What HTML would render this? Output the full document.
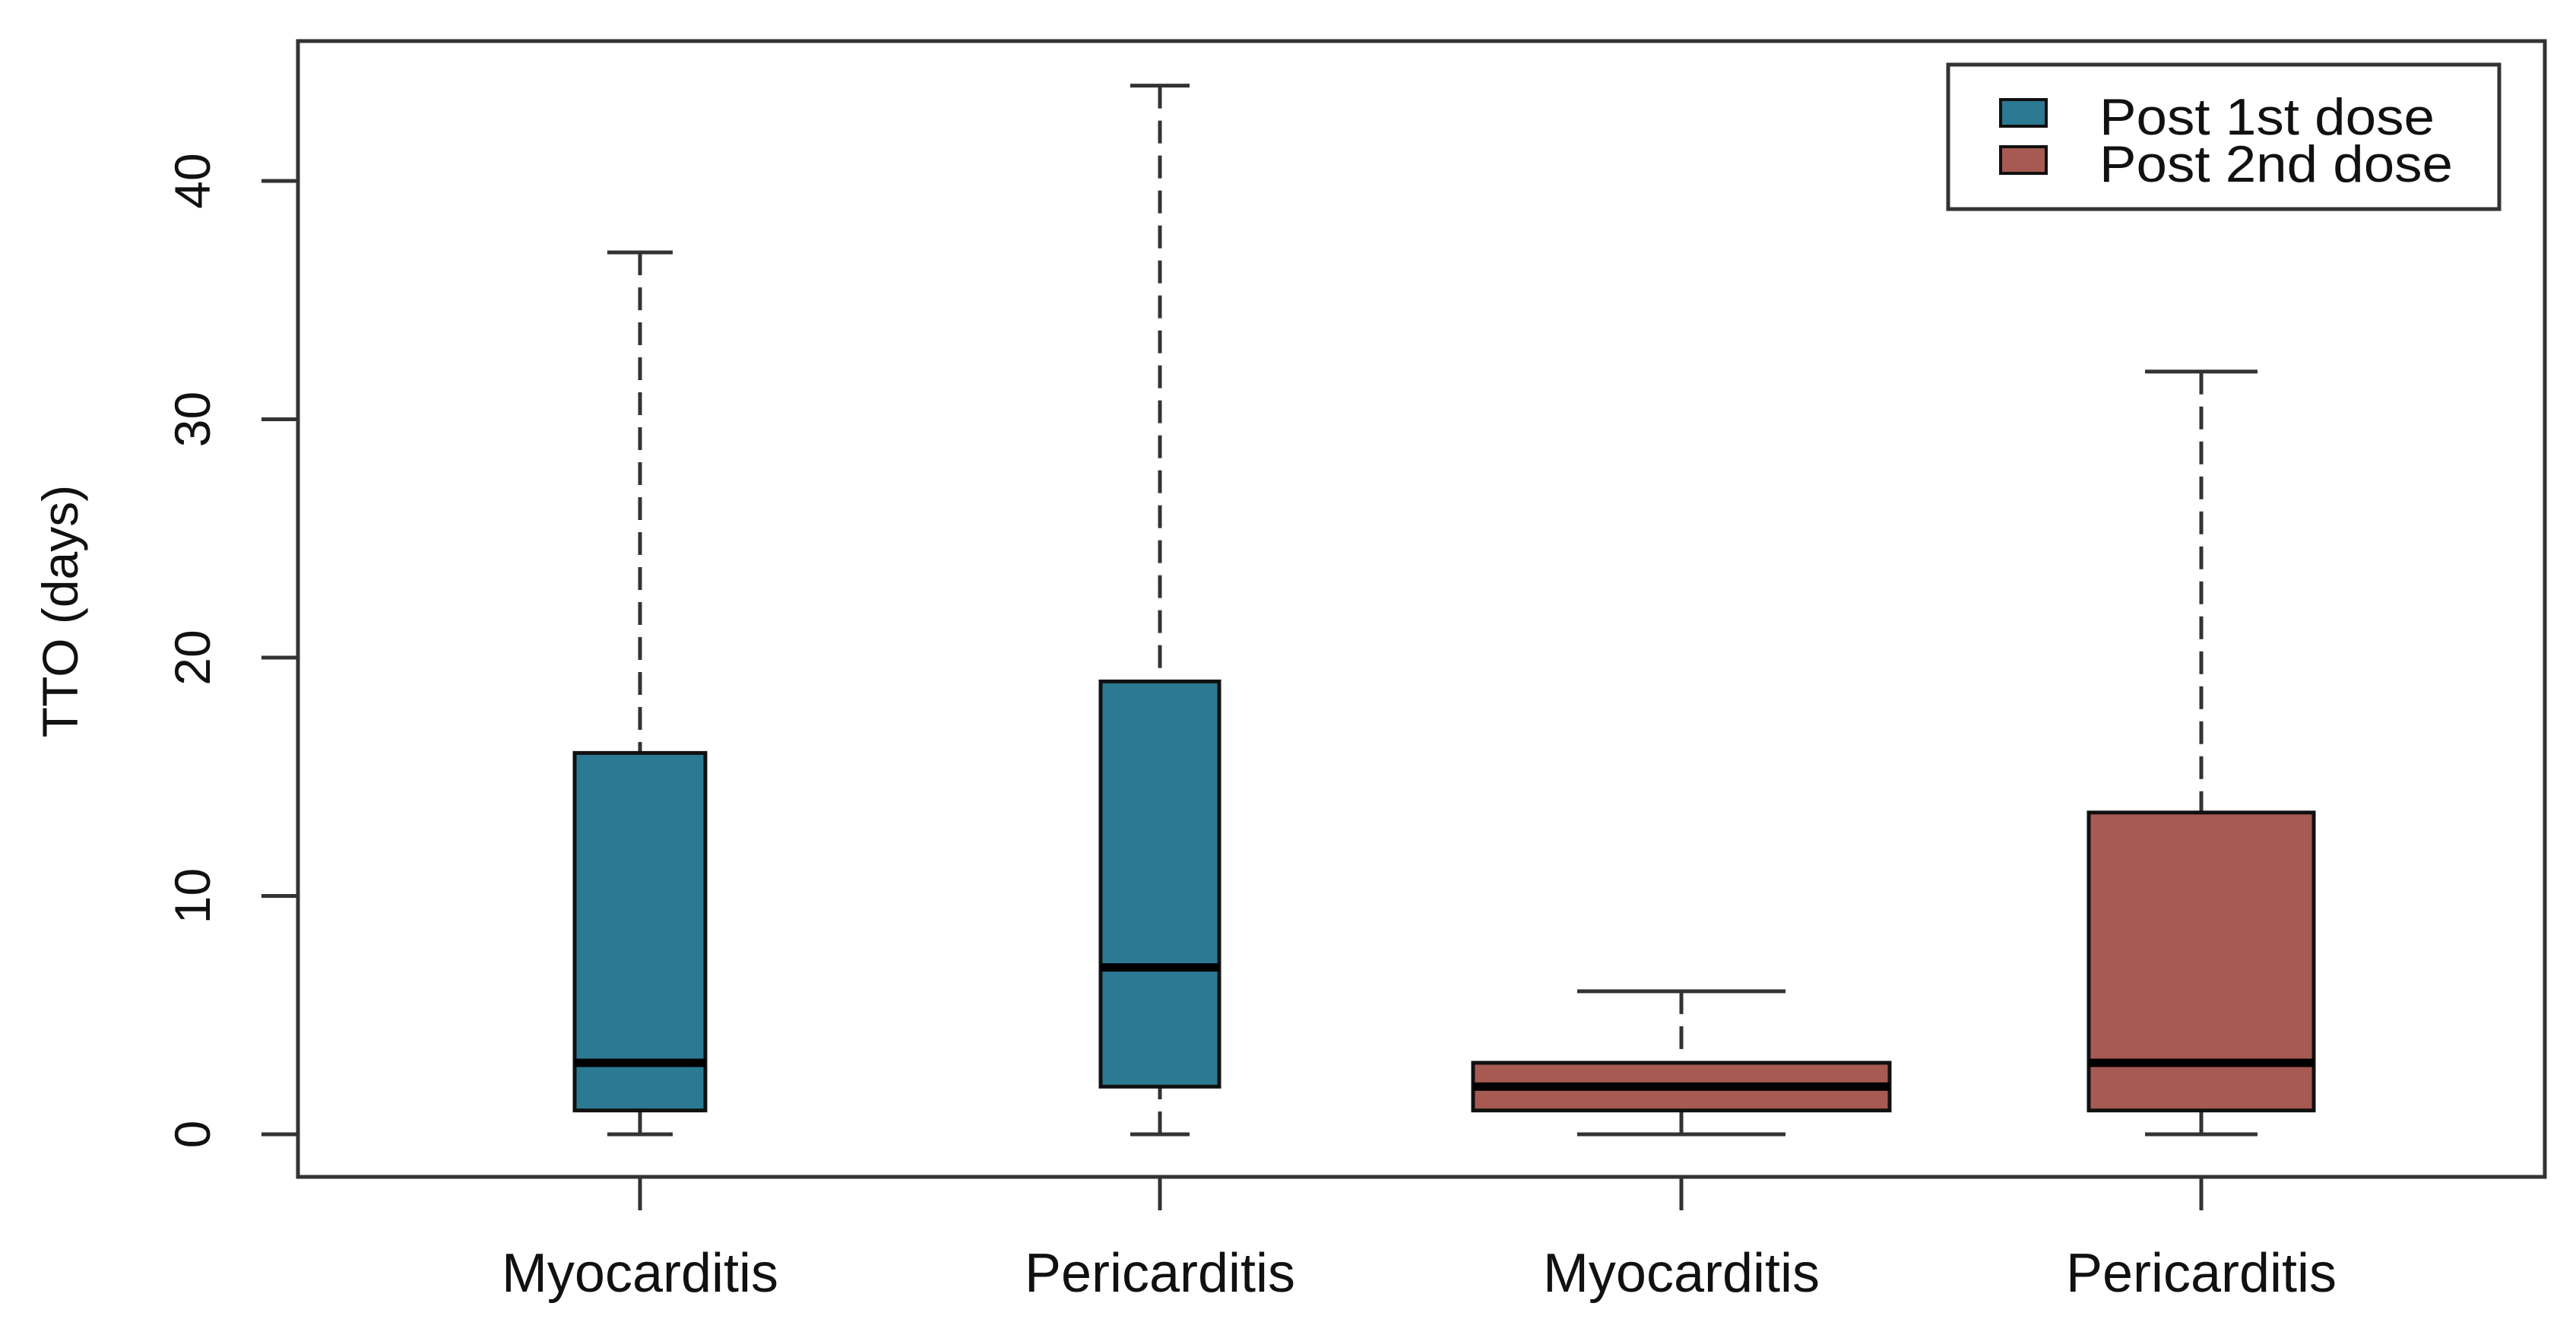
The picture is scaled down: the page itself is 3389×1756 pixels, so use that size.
<!DOCTYPE html>
<html><head><meta charset="utf-8"><style>
html,body{margin:0;padding:0;background:#fff;}
svg{display:block;font-family:"Liberation Sans",Arial,sans-serif;}
</style></head><body>
<svg id="chart" width="3389" height="1756" viewBox="0 0 3389 1756" xmlns="http://www.w3.org/2000/svg">
<rect x="392" y="54" width="2956" height="1494" fill="none" stroke="#333" stroke-width="5"/>
<g id="marks"></g>
<g id="axes"></g>
<text transform="translate(102,804) rotate(-90)" text-anchor="middle" font-size="66" fill="#111">TTO (days)</text>
<g>
<rect x="2563" y="85" width="725" height="190" fill="#fff" stroke="#333" stroke-width="5"/>
<rect x="2632" y="131" width="60" height="35" fill="#2c7993" stroke="#111" stroke-width="4"/>
<rect x="2632" y="193" width="60" height="35" fill="#a65a52" stroke="#111" stroke-width="4"/>
<text x="2762" y="177" font-size="68" textLength="441" lengthAdjust="spacingAndGlyphs" fill="#111">Post 1st dose</text>
<text x="2762" y="239" font-size="68" textLength="465" lengthAdjust="spacingAndGlyphs" fill="#111">Post 2nd dose</text>
</g>
</svg>
<script>
const categories = ["Myocarditis","Pericarditis","Myocarditis","Pericarditis"];
const lowWhisker = [0,0,0,0];
const q1Values = [1,2,1,1];
const medianValues = [3,7,2,3];
const q3Values = [16,19,3,13.5];
const highWhisker = [37,44,6,32];
const doseGroup = ["Post 1st dose","Post 1st dose","Post 2nd dose","Post 2nd dose"];
const yTicks = [0,10,20,30,40];

const NS = "http://www.w3.org/2000/svg";
const centers = [842,1526,2212,2896];
const widths = [172,156,548,296];
const colors = {"Post 1st dose":"#2c7993","Post 2nd dose":"#a65a52"};
function yScale(v){ return 1492 + (238-1492) * v / 40; }
function mk(tag, attrs, parent){
  const e = document.createElementNS(NS, tag);
  for (const k in attrs) e.setAttribute(k, attrs[k]);
  parent.appendChild(e); return e;
}
const marks = document.getElementById("marks");
const axes = document.getElementById("axes");
categories.forEach((c,i)=>{
  const cx = centers[i], w = widths[i], hw = w/2, cw = w/4;
  const g = mk("g", {}, marks);
  
  
  const wu = mk("line", {x1:cx,x2:cx,y1:yScale(highWhisker[i]),y2:yScale(q3Values[i]),stroke:"#333","stroke-width":5,"stroke-dasharray":"30 16"}, g);
  
  
  const wl = mk("line", {x1:cx,x2:cx,y1:yScale(lowWhisker[i]),y2:yScale(q1Values[i]),stroke:"#333","stroke-width":5,"stroke-dasharray":"30 16"}, g);
  
  
  const cu = mk("line", {x1:cx-cw,x2:cx+cw,y1:yScale(highWhisker[i]),y2:yScale(highWhisker[i]),stroke:"#333","stroke-width":5}, g);
  
  
  const cl = mk("line", {x1:cx-cw,x2:cx+cw,y1:yScale(lowWhisker[i]),y2:yScale(lowWhisker[i]),stroke:"#333","stroke-width":5}, g);
  
  
  const r = mk("rect", {x:cx-hw,y:yScale(q3Values[i]),width:w,height:yScale(q1Values[i])-yScale(q3Values[i]),fill:colors[doseGroup[i]],stroke:"#111","stroke-width":5}, g);
  
  
  const m = mk("line", {x1:cx-hw,x2:cx+hw,y1:yScale(medianValues[i]),y2:yScale(medianValues[i]),stroke:"#000","stroke-width":11}, g);
  
  
  const t = mk("line", {x1:cx,x2:cx,y1:1548,y2:1592,stroke:"#333","stroke-width":5}, axes);
  
  
  const lb = mk("text", {x:cx,y:1699,"text-anchor":"middle","font-size":72,fill:"#111"}, axes);
  lb.textContent = c;
  
  
});
const ya = mk("line", {x1:392,x2:392,y1:yScale(0),y2:yScale(40),stroke:"#333","stroke-width":5}, axes);


yTicks.forEach(v=>{
  const y = yScale(v);
  const t = mk("line", {x1:344,x2:392,y1:y,y2:y,stroke:"#333","stroke-width":5}, axes);
  
  
  const lb = mk("text", {transform:"translate(276,"+y+") rotate(-90)","text-anchor":"middle","font-size":66,fill:"#111"}, axes);
  lb.textContent = String(v);
  
  
});
</script>
</body></html>
